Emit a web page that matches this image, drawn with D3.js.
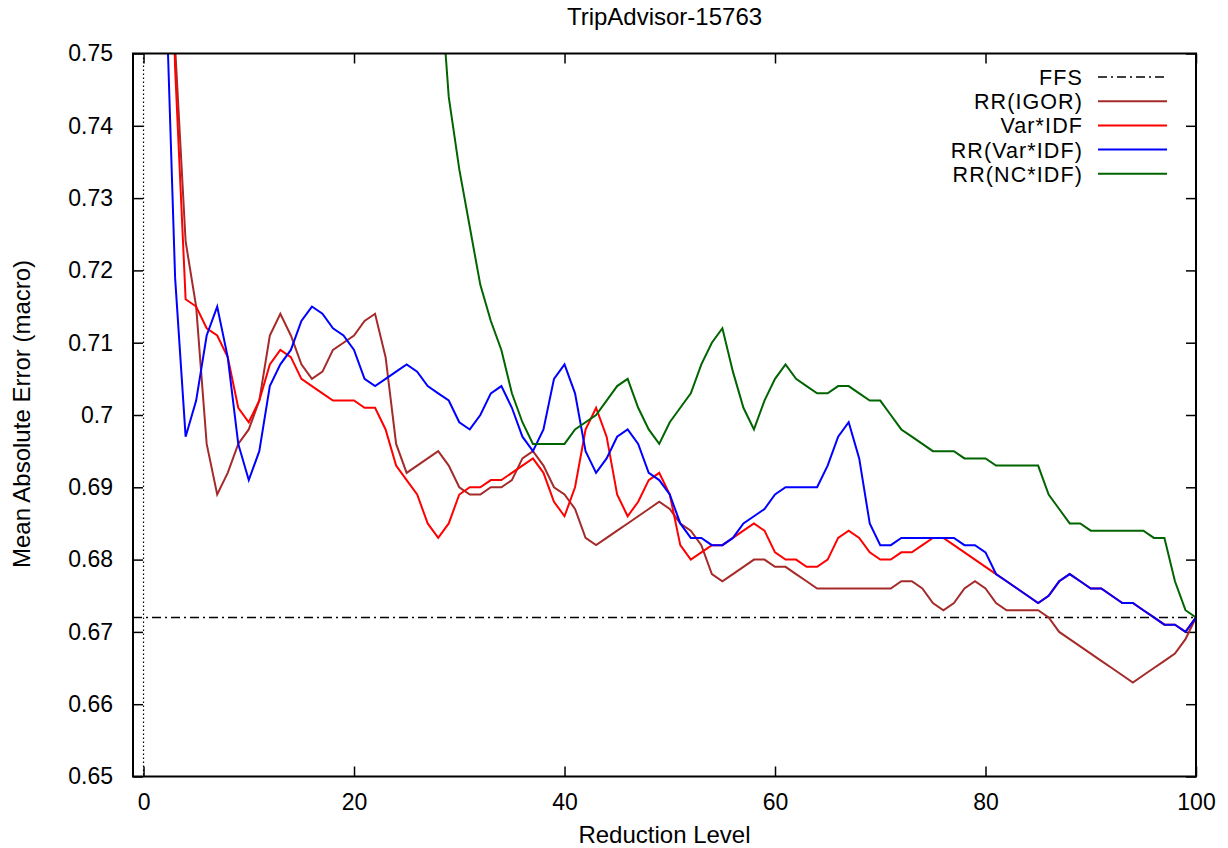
<!DOCTYPE html>
<html>
<head>
<meta charset="utf-8">
<script src="https://cdn.jsdelivr.net/npm/d3@7"></script>
<style>
  body { margin: 0; background: #fff; }
  text { font-family: "Liberation Sans", Arial, sans-serif; fill: #000; }
</style>
</head>
<body>
<div id="chart"></div>
<script>
// reduction levels 0..100
const levels = d3.range(0, 101);

// values, null where the point is not known (far above the plot)
const rrIgor = [null, null, 0.800, 0.751, 0.724, 0.715, 0.696, 0.689, 0.692, 0.696,
  0.698, 0.702, 0.711, 0.714, 0.711, 0.707, 0.705, 0.706, 0.709, 0.710,
  0.711, 0.713, 0.714, 0.708, 0.696, 0.692, 0.693, 0.694, 0.695, 0.693,
  0.690, 0.689, 0.689, 0.690, 0.690, 0.691, 0.694, 0.695, 0.693, 0.690,
  0.689, 0.687, 0.683, 0.682, 0.683, 0.684, 0.685, 0.686, 0.687, 0.688,
  0.687, 0.685, 0.684, 0.682, 0.678, 0.677, 0.678, 0.679, 0.680, 0.680,
  0.679, 0.679, 0.678, 0.677, 0.676, 0.676, 0.676, 0.676, 0.676, 0.676,
  0.676, 0.676, 0.677, 0.677, 0.676, 0.674, 0.673, 0.674, 0.676, 0.677,
  0.676, 0.674, 0.673, 0.673, 0.673, 0.673, 0.672, 0.670, 0.669, 0.668,
  0.667, 0.666, 0.665, 0.664, 0.663, 0.664, 0.665, 0.666, 0.667, 0.669,
  0.672];

const varIdf = [null, null, 0.800, 0.748, 0.716, 0.715, 0.712, 0.711, 0.708, 0.701,
  0.699, 0.702, 0.707, 0.709, 0.708, 0.705, 0.704, 0.703, 0.702, 0.702,
  0.702, 0.701, 0.701, 0.698, 0.693, 0.691, 0.689, 0.685, 0.683, 0.685,
  0.689, 0.690, 0.690, 0.691, 0.691, 0.692, 0.693, 0.694, 0.692, 0.688,
  0.686, 0.690, 0.698, 0.701, 0.697, 0.689, 0.686, 0.688, 0.691, 0.692,
  0.689, 0.682, 0.680, 0.681, 0.682, 0.682, 0.683, 0.684, 0.685, 0.684,
  0.681, 0.680, 0.680, 0.679, 0.679, 0.680, 0.683, 0.684, 0.683, 0.681,
  0.680, 0.680, 0.681, 0.681, 0.682, 0.683, 0.683, 0.682, 0.681, 0.680,
  0.679, 0.678, 0.677, 0.676, 0.675, 0.674, 0.675, 0.677, 0.678, 0.677,
  0.676, 0.676, 0.675, 0.674, 0.674, 0.673, 0.672, 0.671, 0.671, 0.670,
  0.672];

const rrVarIdf = [null, null, 0.765, 0.719, 0.697, 0.702, 0.711, 0.715, 0.708, 0.696,
  0.691, 0.695, 0.704, 0.707, 0.709, 0.713, 0.715, 0.714, 0.712, 0.711,
  0.709, 0.705, 0.704, 0.705, 0.706, 0.707, 0.706, 0.704, 0.703, 0.702,
  0.699, 0.698, 0.700, 0.703, 0.704, 0.701, 0.697, 0.695, 0.698, 0.705,
  0.707, 0.703, 0.695, 0.692, 0.694, 0.697, 0.698, 0.696, 0.692, 0.691,
  0.689, 0.685, 0.683, 0.683, 0.682, 0.682, 0.683, 0.685, 0.686, 0.687,
  0.689, 0.690, 0.690, 0.690, 0.690, 0.693, 0.697, 0.699, 0.694, 0.685,
  0.682, 0.682, 0.683, 0.683, 0.683, 0.683, 0.683, 0.683, 0.682, 0.682,
  0.681, 0.678, 0.677, 0.676, 0.675, 0.674, 0.675, 0.677, 0.678, 0.677,
  0.676, 0.676, 0.675, 0.674, 0.674, 0.673, 0.672, 0.671, 0.671, 0.670,
  0.672];

const rrNcIdf = [null, null, null, null, null, null, null, null, null, null,
  null, null, null, null, null, null, null, null, null, null,
  null, null, null, null, null, null, 0.820, 0.790, 0.764, 0.744,
  0.734, 0.726, 0.718, 0.713, 0.709, 0.703, 0.699, 0.696, 0.696, 0.696,
  0.696, 0.698, 0.699, 0.700, 0.702, 0.704, 0.705, 0.701, 0.698, 0.696,
  0.699, 0.701, 0.703, 0.707, 0.710, 0.712, 0.706, 0.701, 0.698, 0.702,
  0.705, 0.707, 0.705, 0.704, 0.703, 0.703, 0.704, 0.704, 0.703, 0.702,
  0.702, 0.700, 0.698, 0.697, 0.696, 0.695, 0.695, 0.695, 0.694, 0.694,
  0.694, 0.693, 0.693, 0.693, 0.693, 0.693, 0.689, 0.687, 0.685, 0.685,
  0.684, 0.684, 0.684, 0.684, 0.684, 0.684, 0.683, 0.683, 0.677, 0.673,
  0.672];

const ffs = 0.672;

const xTicks = [0, 20, 40, 60, 80, 100];
const yTicks = [0.65, 0.66, 0.67, 0.68, 0.69, 0.70, 0.71, 0.72, 0.73, 0.74, 0.75];
const yTickLabels = ["0.65", "0.66", "0.67", "0.68", "0.69", "0.7", "0.71", "0.72", "0.73", "0.74", "0.75"];

const seriesNames = ["RR(IGOR)", "Var*IDF", "RR(Var*IDF)", "RR(NC*IDF)"];
const seriesColors = ["#a52a2a", "#ff0000", "#0000ff", "#006400"];
const seriesValues = [rrIgor, varIdf, rrVarIdf, rrNcIdf];

const W = 1228, H = 848;
const box = {left: 133, right: 1196, top: 53.5, bottom: 776.5};
const fontSize = 24, tickFontSize = 23;

const svg = d3.select("#chart").append("svg")
    .attr("width", W)
    .attr("height", H);

const x = d3.scaleLinear().domain([-1, 100]).range([box.left, box.right]);
const y = d3.scaleLinear().domain([0.65, 0.75]).range([box.bottom, box.top]);

svg.append("defs").append("clipPath")
    .attr("id", "plot-clip")
  .append("rect")
    .attr("x", box.left).attr("y", box.top)
    .attr("width", box.right - box.left).attr("height", box.bottom - box.top);

// axes: ticks point inward, mirrored on top / right
const yLabel = d => yTickLabels[yTicks.indexOf(d)];

svg.append("g")
    .attr("transform", `translate(${box.left},0)`)
    .call(d3.axisLeft(y).tickValues(yTicks).tickFormat(yLabel).tickSizeInner(-10).tickSizeOuter(0).tickPadding(20))
    .call(g => g.select(".domain").remove());

svg.append("g")
    .attr("transform", `translate(${box.right},0)`)
    .call(d3.axisRight(y).tickValues(yTicks).tickFormat("").tickSizeInner(-10).tickSizeOuter(0))
    .call(g => g.select(".domain").remove());

svg.append("g")
    .attr("transform", `translate(0,${box.bottom})`)
    .call(d3.axisBottom(x).tickValues(xTicks).tickFormat(d3.format("d")).tickSizeInner(-10).tickSizeOuter(0).tickPadding(17))
    .call(g => g.select(".domain").remove());

svg.append("g")
    .attr("transform", `translate(0,${box.top})`)
    .call(d3.axisTop(x).tickValues(xTicks).tickFormat("").tickSizeInner(-10).tickSizeOuter(0))
    .call(g => g.select(".domain").remove());

svg.selectAll(".tick line").attr("stroke", "#000").attr("stroke-width", 1.5);
svg.selectAll(".tick text")
    .style("font-family", "'Liberation Sans', Arial, sans-serif")
    .style("font-size", tickFontSize + "px")
    .attr("fill", "#000");

// zero axis (dotted)
svg.append("line")
    .attr("x1", x(0)).attr("x2", x(0))
    .attr("y1", box.top).attr("y2", box.bottom)
    .attr("stroke", "#000")
    .attr("stroke-width", 1.2)
    .attr("stroke-dasharray", "1.5,2.5");

const plot = svg.append("g").attr("clip-path", "url(#plot-clip)");

// FFS baseline
plot.append("line")
    .attr("x1", box.left).attr("x2", box.right)
    .attr("y1", y(ffs)).attr("y2", y(ffs))
    .attr("stroke", "#000")
    .attr("stroke-width", 1.5)
    .attr("stroke-dasharray", "9,4,2,4");

const line = d3.line()
    .defined(d => d[1] !== null)
    .x(d => x(d[0]))
    .y(d => y(d[1]));

seriesValues.forEach((vals, i) => {
  plot.append("path")
      .datum(levels.map(l => [l, vals[l]]))
      .attr("fill", "none")
      .attr("stroke", seriesColors[i])
      .attr("stroke-width", 2)
      .attr("stroke-linejoin", "miter")
      .attr("d", line);
});

// border
svg.append("rect")
    .attr("x", box.left).attr("y", box.top)
    .attr("width", box.right - box.left).attr("height", box.bottom - box.top)
    .attr("fill", "none")
    .attr("stroke", "#000")
    .attr("stroke-width", 2);

// legend (rows are tight, so a slightly smaller font with a bit of spacing)
const legendNames = ["FFS"].concat(seriesNames);
const legendColors = ["#000"].concat(seriesColors);
const legend = svg.append("g");
legendNames.forEach((name, i) => {
  const ly = 77 + i * 24.2;
  legend.append("text")
      .attr("x", 1083).attr("y", ly + 8)
      .attr("text-anchor", "end")
      .style("font-size", "21.5px")
      .style("letter-spacing", "1.1px")
      .text(name);
  legend.append("line")
      .attr("x1", 1098).attr("x2", 1167)
      .attr("y1", ly).attr("y2", ly)
      .attr("stroke", legendColors[i])
      .attr("stroke-width", i === 0 ? 1.5 : 2)
      .attr("stroke-dasharray", i === 0 ? "9,4,2,4" : null);
});

// titles
svg.append("text")
    .attr("x", (box.left + box.right) / 2).attr("y", 25)
    .attr("text-anchor", "middle")
    .style("font-size", fontSize + "px")
    .text("TripAdvisor-15763");

svg.append("text")
    .attr("x", (box.left + box.right) / 2).attr("y", 843)
    .attr("text-anchor", "middle")
    .style("font-size", fontSize + "px")
    .text("Reduction Level");

svg.append("text")
    .attr("transform", `translate(30,414) rotate(-90)`)
    .attr("text-anchor", "middle")
    .style("font-size", fontSize + "px")
    .text("Mean Absolute Error (macro)");
</script>
</body>
</html>
